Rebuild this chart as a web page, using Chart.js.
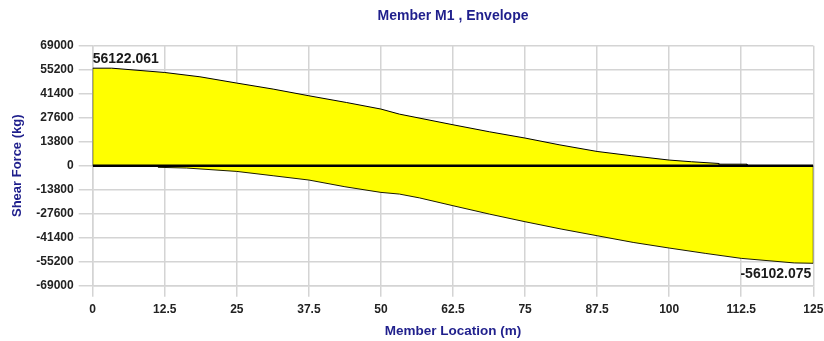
<!DOCTYPE html>
<html>
<head>
<meta charset="utf-8">
<title>Member M1 , Envelope</title>
<script src="https://cdn.jsdelivr.net/npm/chart.js@4/dist/chart.umd.min.js"></script>
<style>
  body { margin: 0; background: #fff; }
  #shear_chart { display: block; }
</style>
</head>
<body>
<canvas id="shear_chart" width="824" height="341"></canvas>
<script>

// envelope data (location in m, shear in kg)
var upperX = [0, 0, 3.3, 12.5, 18.6, 25, 31.3, 37.5, 44, 50, 53.2, 62.5, 68.8, 75, 80.9, 87.5, 93.5, 100, 103.9, 108.6, 108.6, 113.5, 113.5, 125];
var upperY = [0, 56122.061, 56122.061, 53650, 51175, 47550, 44100, 40250, 36400, 32600, 29700, 23575, 19550, 15930, 12075, 8220, 5750, 3270, 2300, 1320, 900, 900, 0, 0];

var lowerX = [0, 11.4, 11.4, 16.3, 25, 31.3, 37.5, 43.75, 50, 53.2, 56.7, 62.5, 68.8, 75, 81.25, 87.5, 93.75, 100, 106.25, 112.5, 121.7, 125, 125];
var lowerY = [0, 0, -900, -1320, -3270, -5750, -8220, -12075, -15330, -16290, -18500, -23000, -27800, -32200, -36400, -40250, -44100, -47340, -50400, -53280, -55900, -56102.075, 0];

var baseX = [0, 125];
var baseY = [0, 0];

var xTicks = [0, 12.5, 25, 37.5, 50, 62.5, 75, 87.5, 100, 112.5, 125];
var yTicks = [-69000, -55200, -41400, -27600, -13800, 0, 13800, 27600, 41400, 55200, 69000];

var maxLabel = "56122.061";
var minLabel = "-56102.075";

function toPoints(xs, ys) {
  var pts = [];
  for (var i = 0; i < xs.length; i++) {
    pts.push({x: xs[i], y: ys[i]});
  }
  return pts;
}

var navy = "#1f1f8c";
var gridColor = "#d4d4d4";
var fontFamily = "Arial, 'Liberation Sans', sans-serif";

// writes the max / min values next to the envelope ends
var valueLabels = {
  id: "valueLabels",
  afterDatasetsDraw: function(chart) {
    var ctx = chart.ctx;
    var xs = chart.scales.x;
    var ys = chart.scales.y;
    ctx.save();
    ctx.font = "bold 14px " + fontFamily;
    ctx.fillStyle = "#1a1a1a";

    var i = upperY.indexOf(Math.max.apply(null, upperY));
    ctx.textAlign = "left";
    ctx.textBaseline = "bottom";
    ctx.fillText(maxLabel, xs.getPixelForValue(upperX[i]), ys.getPixelForValue(upperY[i]) - 2);

    var j = lowerY.indexOf(Math.min.apply(null, lowerY));
    ctx.textAlign = "right";
    ctx.textBaseline = "top";
    ctx.fillText(minLabel, xs.getPixelForValue(lowerX[j]) - 2, ys.getPixelForValue(lowerY[j]) + 4);
    ctx.restore();
  }
};

// chart start
var shear_ctx = document.getElementById("shear_chart").getContext("2d");

var shear_chart = new Chart(shear_ctx, {
  type: "line",
  data: {
    datasets: [
      {
        label: "Zero",
        data: toPoints(baseX, baseY),
        borderColor: "#000",
        borderWidth: 2.5,
        pointRadius: 0,
        fill: false,
        order: 0
      },
      {
        label: "Max",
        data: toPoints(upperX, upperY),
        borderColor: "#000",
        borderWidth: 1,
        backgroundColor: "#ffff00",
        pointRadius: 0,
        fill: "origin",
        order: 1
      },
      {
        label: "Min",
        data: toPoints(lowerX, lowerY),
        borderColor: "#1a1a00",
        borderWidth: 1,
        backgroundColor: "#ffff00",
        pointRadius: 0,
        fill: "origin",
        order: 2
      }
    ]
  },
  options: {
    responsive: false,
    animation: false,
    layout: { padding: { top: 2, right: 0, bottom: 0, left: 0 } },
    plugins: {
      legend: { display: false },
      tooltip: { enabled: false },
      title: {
        display: true,
        fullSize: false,
        text: "Member M1 , Envelope",
        color: navy,
        font: { family: fontFamily, size: 14, weight: "bold" },
        padding: { top: 6, bottom: 21 }
      }
    },
    scales: {
      x: {
        type: "linear",
        min: 0,
        max: 125,
        afterBuildTicks: function(scale) {
          scale.ticks = xTicks.map(function(v) { return {value: v}; });
        },
        afterFit: function(scale) {
          scale.height = 55.3;
          scale.paddingLeft = 0;
          scale.paddingRight = 10.7;
        },
        grid: { color: gridColor, lineWidth: 1.5, tickLength: 11 },
        border: { color: gridColor, width: 1.5 },
        ticks: {
          color: "#222",
          padding: 6,
          maxRotation: 0,
          font: { family: fontFamily, size: 12, weight: "bold" },
          callback: function(v) { return String(v); }
        },
        title: {
          display: true,
          text: "Member Location (m)",
          color: navy,
          font: { family: fontFamily, size: 13.5, weight: "bold" },
          padding: { top: 0, bottom: 2 }
        }
      },
      y: {
        type: "linear",
        min: -69000,
        max: 69000,
        afterBuildTicks: function(scale) {
          scale.ticks = yTicks.map(function(v) { return {value: v}; });
        },
        afterFit: function(scale) { scale.width = 92.7; },
        grid: { color: gridColor, lineWidth: 1.5, tickLength: 14 },
        border: { color: gridColor, width: 1.5 },
        ticks: {
          color: "#222",
          padding: 5,
          font: { family: fontFamily, size: 12, weight: "bold" },
          callback: function(v) { return String(v); }
        },
        title: {
          display: true,
          text: "Shear Force (kg)",
          color: navy,
          font: { family: fontFamily, size: 13, weight: "bold" },
          padding: { top: 10, bottom: 0 }
        }
      }
    }
  },
  plugins: [valueLabels]
});
// chart end

</script>
</body>
</html>
